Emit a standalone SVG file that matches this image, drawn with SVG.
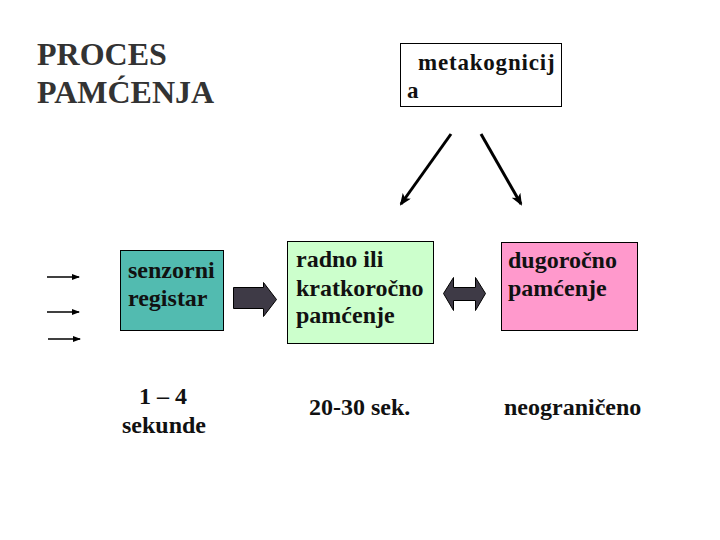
<svg xmlns="http://www.w3.org/2000/svg" width="720" height="540" viewBox="0 0 720 540">
<style>
.t{font-family:"Liberation Serif","Times New Roman",serif;font-weight:bold;fill:#111}
.b{font-size:24px}
.box{stroke:#000;stroke-width:1}
.ln{stroke:#000;stroke-width:1.5;fill:none}
.blk{fill:#3e3a46;stroke:#000;stroke-width:1}
</style>
<defs>
<marker id="ah" markerWidth="8" markerHeight="6" refX="7" refY="3" orient="auto" markerUnits="userSpaceOnUse">
<path d="M0,0 L8,3 L0,6 Z" fill="#000"/>
</marker>
<marker id="ah2" markerWidth="12" markerHeight="10" refX="10" refY="5" orient="auto" markerUnits="userSpaceOnUse">
<path d="M0,0 L12,5 L0,10 L3,5 Z" fill="#000"/>
</marker>
</defs>
<rect width="720" height="540" fill="#fff"/>
<g id="title">
<text class="t" x="37" y="65" font-size="32" style="fill:#333">PROCES</text>
<text class="t" x="37" y="103" font-size="32" style="fill:#333">PAMĆENJA</text>
</g>
<g id="metakognicija">
<rect class="box" x="400.5" y="43.5" width="161" height="63" fill="#fff"/>
<text class="t" x="418" y="70" font-size="23" letter-spacing="0.8">metakognicij</text>
<text class="t" x="407" y="98" font-size="23">a</text>
</g>
<g id="senzorni">
<rect class="box" x="120.5" y="250.5" width="103" height="80" fill="#52bbb0"/>
<text class="t b" x="128" y="278">senzorni</text>
<text class="t b" x="128" y="306">registar</text>
</g>
<g id="radno">
<rect class="box" x="287.5" y="241.5" width="146" height="102" fill="#ccffcc"/>
<text class="t b" x="296" y="267">radno ili</text>
<text class="t b" x="296" y="296">kratkoročno</text>
<text class="t b" x="296" y="323">pamćenje</text>
</g>
<g id="dugorocno">
<rect class="box" x="501.5" y="242.5" width="136" height="88" fill="#ff99cc"/>
<text class="t b" x="508" y="268">dugoročno</text>
<text class="t b" x="508" y="296">pamćenje</text>
</g>
<g id="labels">
<text class="t b" x="163" y="404" text-anchor="middle">1 – 4</text>
<text class="t b" x="164" y="433" text-anchor="middle">sekunde</text>
<text class="t b" x="309" y="415">20-30 sek.</text>
<text class="t b" x="504" y="415">neograničeno</text>
</g>
<g id="connectors">
<line class="ln" x1="47" y1="277" x2="79" y2="277" marker-end="url(#ah)"/>
<line class="ln" x1="47" y1="312" x2="79" y2="312" marker-end="url(#ah)"/>
<line class="ln" x1="48" y1="339" x2="80" y2="339" marker-end="url(#ah)"/>
<line x1="451" y1="134" x2="401" y2="204" stroke="#000" stroke-width="3" marker-end="url(#ah2)"/>
<line x1="481" y1="134" x2="521" y2="204" stroke="#000" stroke-width="3" marker-end="url(#ah2)"/>
<path class="blk" d="M233.5,287.5 H263.5 V282.5 L276.5,299.5 L263.5,316.5 V308.5 H233.5 Z"/>
<path class="blk" d="M443.5,293.5 L453.5,277.5 V287.5 H475.5 V277.5 L485.5,293.5 L475.5,310.5 V300.5 H453.5 V310.5 Z"/>
</g>
</svg>
